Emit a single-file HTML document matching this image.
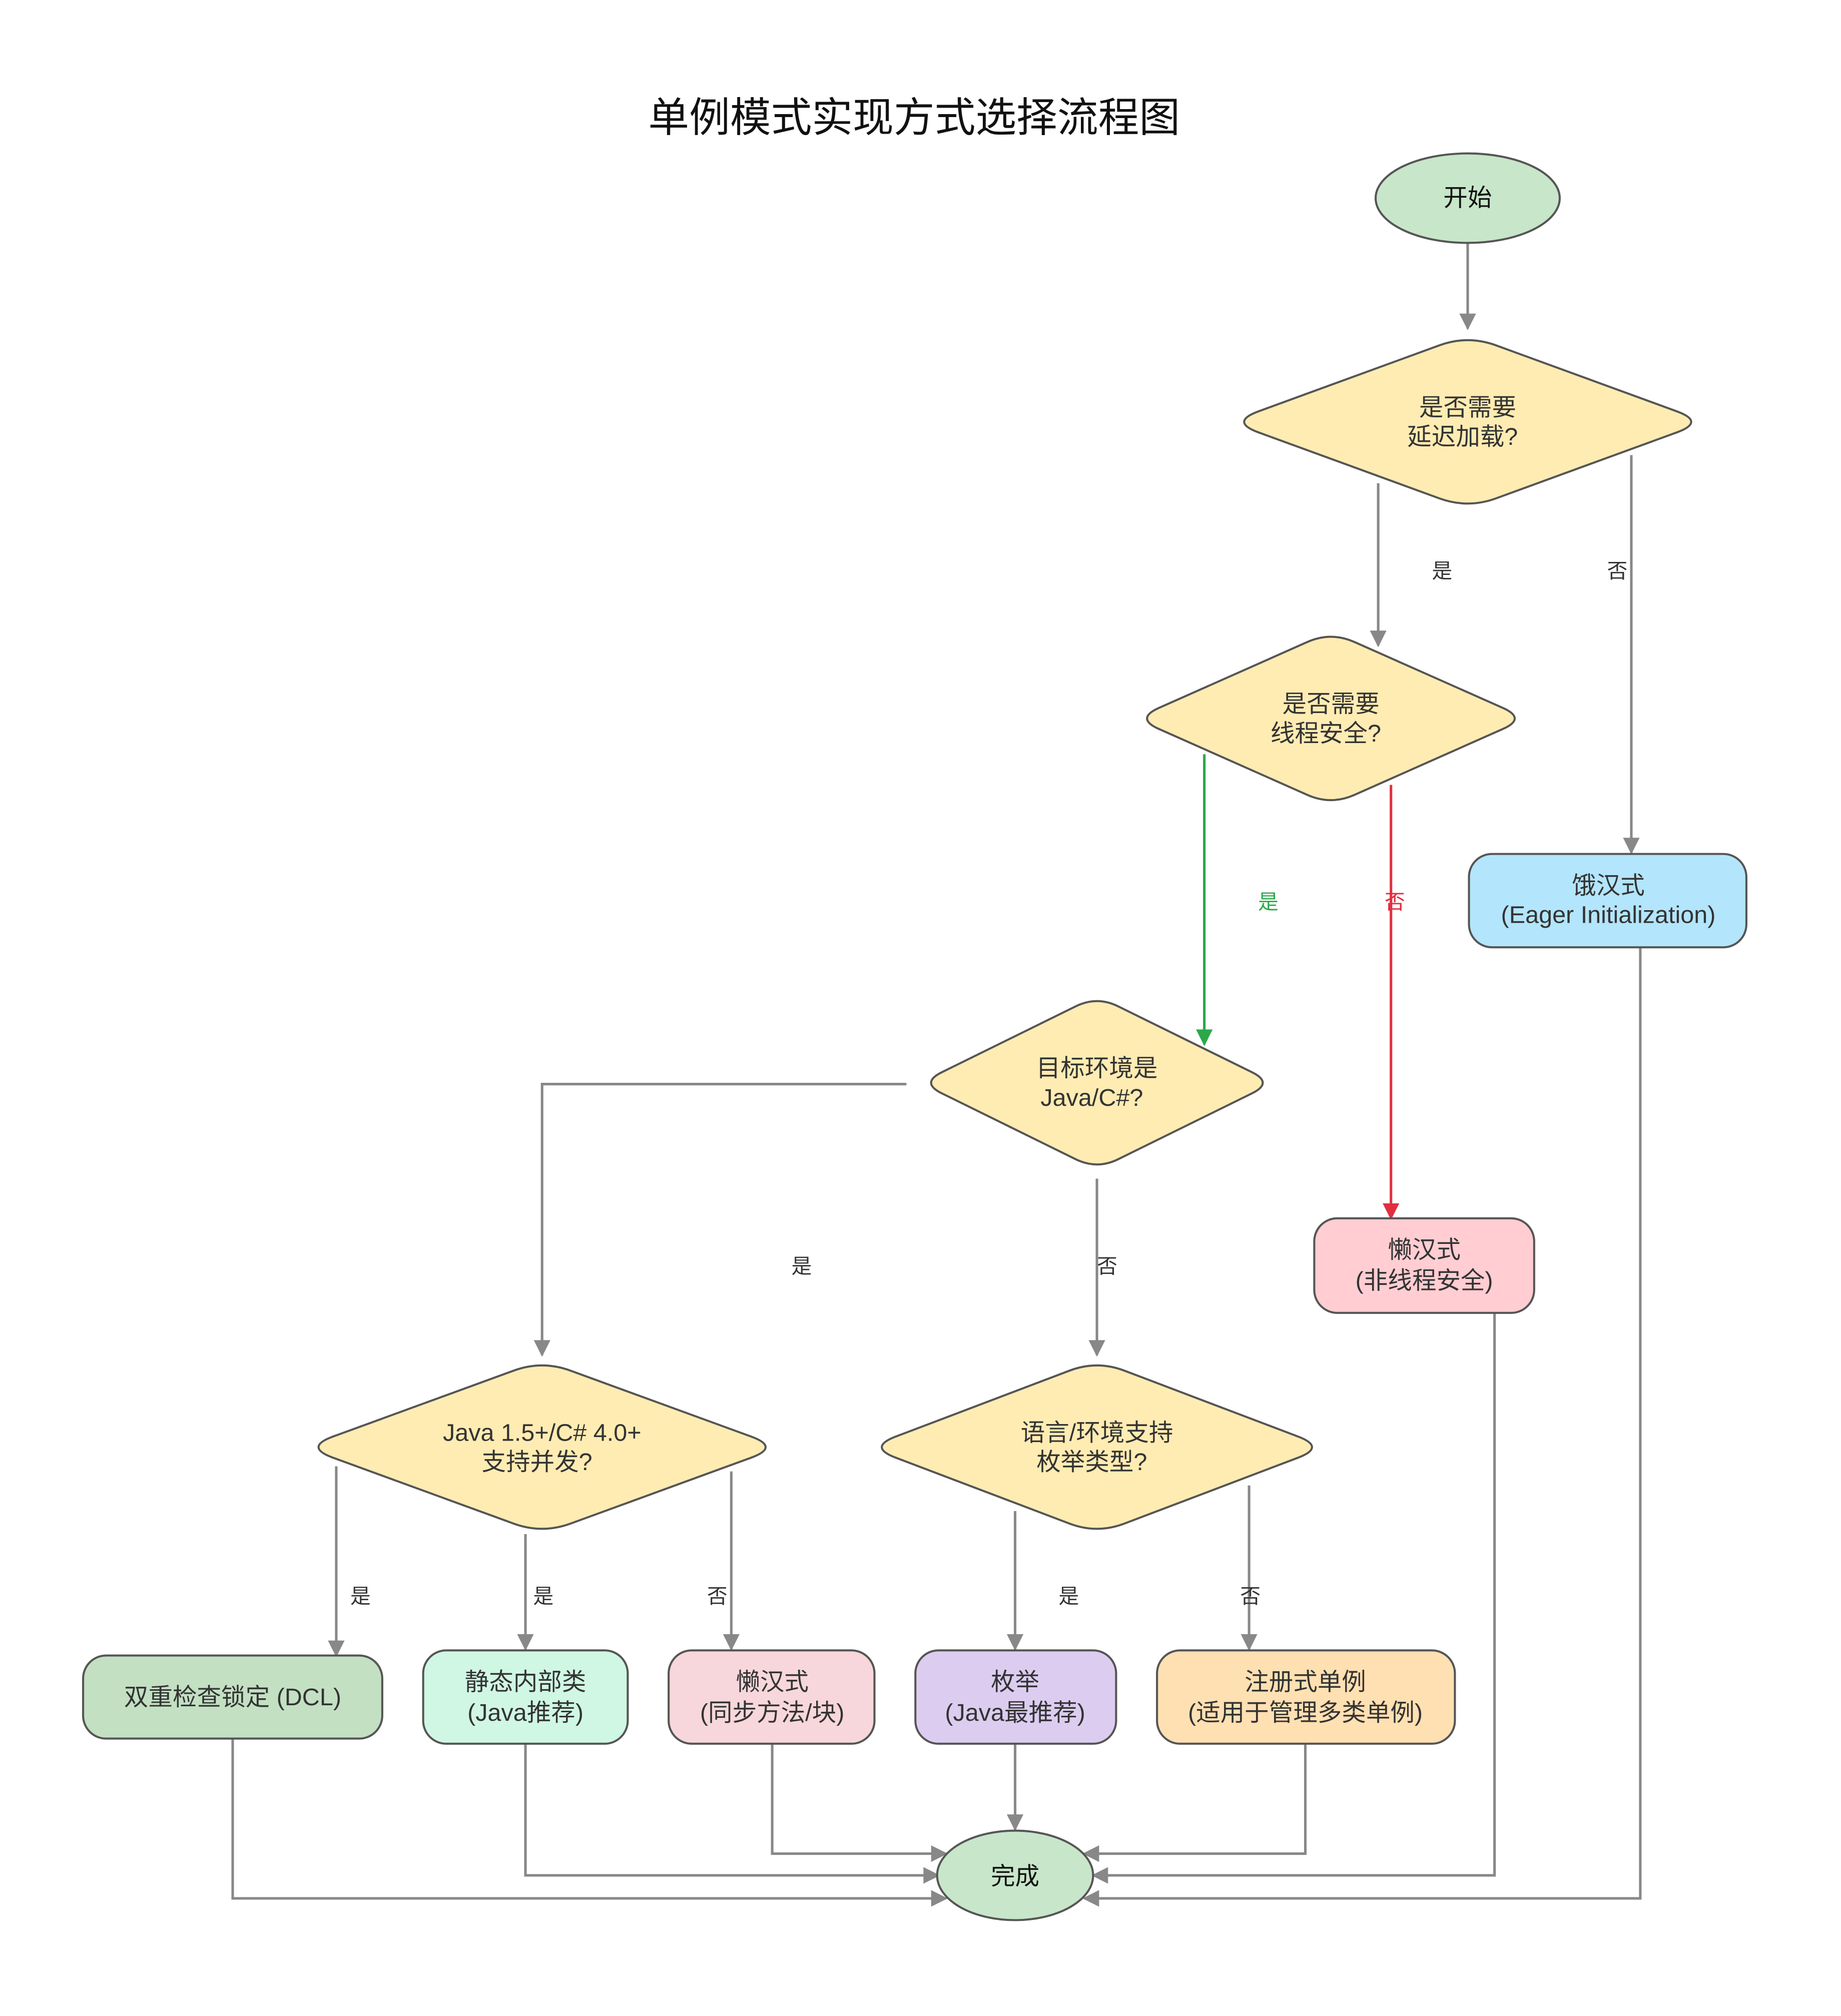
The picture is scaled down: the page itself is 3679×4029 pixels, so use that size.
<!DOCTYPE html>
<html><head><meta charset="utf-8"><style>
html,body{margin:0;padding:0;background:#fff;}
svg{display:block;}
text{font-family:"Liberation Sans","Noto Sans CJK SC",sans-serif;fill:#333;}
</style></head><body>
<svg width="3679" height="4029" viewBox="0 0 1440 1577" xmlns="http://www.w3.org/2000/svg">
<defs>
<marker id="ag" viewBox="0 0 10 10" refX="9" refY="5" markerWidth="7" markerHeight="7" orient="auto" markerUnits="userSpaceOnUse" style="overflow:visible">
<path d="M0,0 L10,5 L0,10 z" fill="#888" transform="scale(1.5) translate(-3.3,-1.7)"/></marker>
<marker id="agr" viewBox="0 0 10 10" refX="9" refY="5" markerWidth="15" markerHeight="13" orient="auto" markerUnits="userSpaceOnUse"><path d="M0,0 L10,5 L0,10 z" fill="#888"/></marker>
<marker id="agn" viewBox="0 0 10 10" refX="9" refY="5" markerWidth="15" markerHeight="13" orient="auto" markerUnits="userSpaceOnUse"><path d="M0,0 L10,5 L0,10 z" fill="#2aa84a"/></marker>
<marker id="ard" viewBox="0 0 10 10" refX="9" refY="5" markerWidth="15" markerHeight="13" orient="auto" markerUnits="userSpaceOnUse"><path d="M0,0 L10,5 L0,10 z" fill="#e03040"/></marker>
</defs>
<rect width="1440" height="1577" fill="#fff"/>
<text x="715" y="103" font-size="32" text-anchor="middle" style="fill:#111">单例模式实现方式选择流程图</text>

<g fill="none" stroke="#888" stroke-width="2">
<path d="M1148,190 V257" marker-end="url(#agr)"/>
<path d="M1078,378 V505" marker-end="url(#agr)"/>
<path d="M1276,356 V667" marker-end="url(#agr)"/>
<path d="M709,848 H424 V1060" marker-end="url(#agr)"/>
<path d="M858,922 V1060" marker-end="url(#agr)"/>
<path d="M263,1147 V1295" marker-end="url(#agr)"/>
<path d="M411,1200 V1290" marker-end="url(#agr)"/>
<path d="M572,1151 V1290" marker-end="url(#agr)"/>
<path d="M794,1182 V1290" marker-end="url(#agr)"/>
<path d="M977,1162 V1290" marker-end="url(#agr)"/>
<path d="M182,1360 V1485 H740" marker-end="url(#agr)"/>
<path d="M411,1364 V1467 H734" marker-end="url(#agr)"/>
<path d="M604,1364 V1450 H740" marker-end="url(#agr)"/>
<path d="M794,1364 V1431" marker-end="url(#agr)"/>
<path d="M1021,1364 V1450 H848" marker-end="url(#agr)"/>
<path d="M1169,1027 V1467 H855" marker-end="url(#agr)"/>
<path d="M1283,741 V1485 H848" marker-end="url(#agr)"/>
</g>
<path d="M942,590 V817" fill="none" stroke="#2aa84a" stroke-width="2" marker-end="url(#agn)"/>
<path d="M1088,614 V953" fill="none" stroke="#e03040" stroke-width="2" marker-end="url(#ard)"/>

<g font-size="16" text-anchor="middle">
<text x="1128" y="452">是</text>
<text x="1265" y="452">否</text>
<text x="992" y="711" style="fill:#2aa84a">是</text>
<text x="1091" y="711" style="fill:#e03040">否</text>
<text x="627" y="996">是</text>
<text x="866" y="996">否</text>
<text x="282" y="1254">是</text>
<text x="425" y="1254">是</text>
<text x="561" y="1254">否</text>
<text x="836" y="1254">是</text>
<text x="978" y="1254">否</text>
</g>

<g stroke="#555" stroke-width="1.6">
<ellipse cx="1148" cy="155" rx="72" ry="35" fill="#c8e6c9"/>
<ellipse cx="794" cy="1467" rx="61" ry="35" fill="#c8e6c9"/>
<path fill="#ffecb3" d="M984.3,321.8 L1125.7,270.2 Q1148,262 1170.3,270.2 L1311.7,321.8 Q1334,330 1311.7,338.2 L1170.3,389.8 Q1148,398 1125.7,389.8 L984.3,338.2 Q962,330 984.3,321.8 Z"/>
<path fill="#ffecb3" d="M906.4,553.8 L1022.6,502.2 Q1041,494 1059.4,502.2 L1175.6,553.8 Q1194,562 1175.6,570.2 L1059.4,621.8 Q1041,630 1022.6,621.8 L906.4,570.2 Q888,562 906.4,553.8 Z"/>
<path fill="#ffecb3" d="M736.6,838.8 L841.4,787.2 Q858,779 874.6,787.2 L979.4,838.8 Q996,847 979.4,855.2 L874.6,906.8 Q858,915 841.4,906.8 L736.6,855.2 Q720,847 736.6,838.8 Z"/>
<path fill="#ffecb3" d="M260.3,1123.8 L401.7,1072.2 Q424,1064 446.3,1072.2 L587.7,1123.8 Q610,1132 587.7,1140.2 L446.3,1191.8 Q424,1200 401.7,1191.8 L260.3,1140.2 Q238,1132 260.3,1123.8 Z"/>
<path fill="#ffecb3" d="M700.5,1123.8 L836.5,1072.2 Q858,1064 879.5,1072.2 L1015.5,1123.8 Q1037,1132 1015.5,1140.2 L879.5,1191.8 Q858,1200 836.5,1191.8 L700.5,1140.2 Q679,1132 700.5,1123.8 Z"/>
<rect x="1149" y="668" width="217" height="73" rx="18" fill="#b3e5fc"/>
<rect x="1028" y="953" width="172" height="74" rx="18" fill="#ffcdd2"/>
<rect x="65" y="1295" width="234" height="65" rx="18" fill="#c3e0c3"/>
<rect x="331" y="1291" width="160" height="73" rx="18" fill="#d0f7e4"/>
<rect x="523" y="1291" width="161" height="73" rx="18" fill="#f7d7db"/>
<rect x="716" y="1291" width="157" height="73" rx="18" fill="#dccdf0"/>
<rect x="905" y="1291" width="233" height="73" rx="18" fill="#ffe0b2"/>
</g>

<g font-size="19" text-anchor="middle">
<text x="1148" y="161" style="fill:#111">开始</text>
<text x="794" y="1474" style="fill:#111">完成</text>
<text x="1148" y="325">是否需要</text><text x="1144" y="348">延迟加载?</text>
<text x="1041" y="557">是否需要</text><text x="1037" y="580">线程安全?</text>
<text x="858" y="842">目标环境是</text><text x="854" y="865">Java/C#?</text>
<text x="424" y="1127">Java 1.5+/C# 4.0+</text><text x="420" y="1150">支持并发?</text>
<text x="858" y="1127">语言/环境支持</text><text x="854" y="1150">枚举类型?</text>
<text x="1258" y="699">饿汉式</text><text x="1258" y="722">(Eager Initialization)</text>
<text x="1114" y="984">懒汉式</text><text x="1114" y="1008">(非线程安全)</text>
<text x="182" y="1334">双重检查锁定 (DCL)</text>
<text x="411" y="1322">静态内部类</text><text x="411" y="1346">(Java推荐)</text>
<text x="604" y="1322">懒汉式</text><text x="604" y="1346">(同步方法/块)</text>
<text x="794" y="1322">枚举</text><text x="794" y="1346">(Java最推荐)</text>
<text x="1021" y="1322">注册式单例</text><text x="1021" y="1346">(适用于管理多类单例)</text>
</g>
</svg>
</body></html>
